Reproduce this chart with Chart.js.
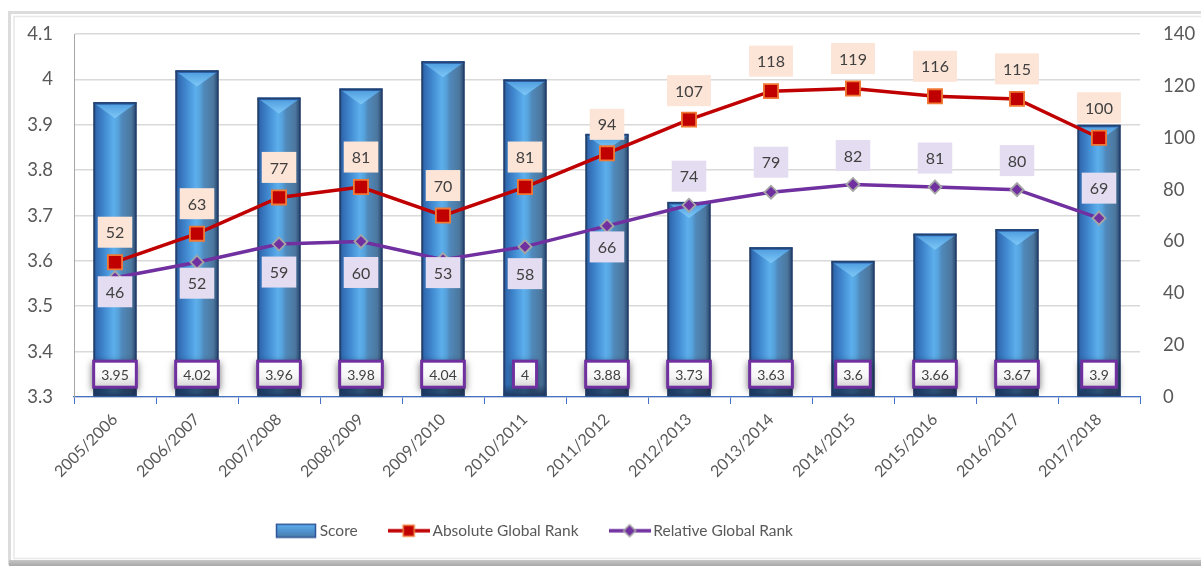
<!DOCTYPE html>
<html><head><meta charset="utf-8">
<style>html,body{margin:0;padding:0;background:#fff;overflow:hidden}#wrap{width:1201px;height:566px;position:relative}</style>
<script src="https://cdn.jsdelivr.net/npm/chart.js@4.4.1/dist/chart.umd.min.js"></script>
</head><body><div id="wrap"><canvas id="c" width="1201" height="566" style="width:1201px;height:566px"></canvas></div>
<script>
// ---- data ----
const categories = ['2005/2006','2006/2007','2007/2008','2008/2009','2009/2010','2010/2011','2011/2012','2012/2013','2013/2014','2014/2015','2015/2016','2016/2017','2017/2018'];
const scoreValues = [3.95,4.02,3.96,3.98,4.04,4,3.88,3.73,3.63,3.6,3.66,3.67,3.9];
const absoluteRank = [52,63,77,81,70,81,94,107,118,119,116,115,100];
const relativeRank = [46,52,59,60,53,58,66,74,79,82,81,80,69];
const scoreTicks = {min:3.3, max:4.1, step:0.1};
const rankTicks = {min:0, max:140, step:20};
const seriesNames = ['Score','Absolute Global Rank','Relative Global Rank'];
// style: vertical label offsets (px) from each point
const absLabelOffset = [-30,-30,-30,-30,-30,-30,-29,-29,-30,-30,-30,-30,-30];
const relLabelOffset = [14,21,28,31,13,27,21,-29,-30,-29,-29,-29,-30];

const FONT = 'Lato, "Open Sans", sans-serif';
const W = 1201, H = 566;
const PLOT_BOTTOM = 397;

function makeCanvas(w,h,draw){const c=document.createElement('canvas');c.width=w;c.height=h;draw(c.getContext('2d'));return c;}
const scoreIcon = makeCanvas(42,16,ctx=>{
  const g=ctx.createLinearGradient(0,1,0,15);g.addColorStop(0,'#62b2ec');g.addColorStop(0.5,'#4f94d2');g.addColorStop(1,'#4a7aa6');
  ctx.fillStyle=g;ctx.fillRect(1,1,40,14);ctx.strokeStyle='#2f5597';ctx.lineWidth=1.5;ctx.strokeRect(1.5,1.5,39,13);
});
const absIcon = makeCanvas(42,16,ctx=>{
  ctx.strokeStyle='#c00000';ctx.lineWidth=3.5;ctx.beginPath();ctx.moveTo(0,8);ctx.lineTo(42,8);ctx.stroke();
  ctx.fillStyle='#c00000';ctx.fillRect(15.5,2.5,11,11);ctx.strokeStyle='#f08040';ctx.lineWidth=1.5;ctx.strokeRect(15.5,2.5,11,11);
});
const relIcon = makeCanvas(42,16,ctx=>{
  ctx.strokeStyle='#7030a0';ctx.lineWidth=3.5;ctx.beginPath();ctx.moveTo(0,8);ctx.lineTo(42,8);ctx.stroke();
  ctx.beginPath();ctx.moveTo(21,2);ctx.lineTo(27,8);ctx.lineTo(21,14);ctx.lineTo(15,8);ctx.closePath();
  ctx.fillStyle='#7030a0';ctx.fill();ctx.strokeStyle='#a5a5a5';ctx.lineWidth=1.5;ctx.stroke();
});

function drawBar(ctx, el, area){
  const w=el.width, x0=el.x-w/2, x1=el.x+w/2, top=el.y, bot=Math.min(el.base, area.bottom), cx=el.x;
  ctx.save();
  const g=ctx.createLinearGradient(x0,0,x1,0);
  g.addColorStop(0,'#1e3a66');g.addColorStop(0.06,'#3069b0');g.addColorStop(0.25,'#4189d0');
  g.addColorStop(0.47,'#5caeec');g.addColorStop(0.57,'#56a3dc');g.addColorStop(0.66,'#5089bb');
  g.addColorStop(0.88,'#4c779e');g.addColorStop(0.95,'#36587f');g.addColorStop(1,'#1b3050');
  ctx.fillStyle=g;ctx.fillRect(x0,top,w,bot-top);
  const bg=ctx.createLinearGradient(0,bot-12,0,bot);bg.addColorStop(0,'rgba(25,45,80,0)');bg.addColorStop(1,'rgba(25,45,80,0.9)');
  ctx.fillStyle=bg;ctx.fillRect(x0,bot-12,w,12);
  const vg=ctx.createLinearGradient(0,top,0,top+16);vg.addColorStop(0,'#4a98dc');vg.addColorStop(1,'#7ec8f7');
  ctx.beginPath();ctx.moveTo(x0+2,top+2);ctx.lineTo(x1-2,top+2);ctx.lineTo(cx,top+16);ctx.closePath();ctx.fillStyle=vg;ctx.fill();
  ctx.fillStyle='#2c5ea6';ctx.fillRect(x0,top,w,2.5);
  ctx.strokeStyle='#23416e';ctx.lineWidth=1.5;ctx.strokeRect(x0+0.75,top+0.75,w-1.5,bot-top-1.5);
  ctx.restore();
}

function boxLabel(ctx, text, cx, cy, fill, fontSize, padX, h){
  ctx.font = fontSize+'px '+FONT;
  const tw=ctx.measureText(text).width, w=tw+padX*2;
  ctx.fillStyle=fill;ctx.fillRect(cx-w/2,cy-h/2,w,h);
  ctx.fillStyle='#404040';ctx.textAlign='center';ctx.textBaseline='middle';
  ctx.fillText(text,cx,cy+1);
}

const decorPlugin = {
  id:'decor',
  beforeDraw(chart){
    const ctx=chart.ctx;ctx.save();
    ctx.fillStyle='#fff';ctx.fillRect(0,0,W,H);
    ctx.strokeStyle='#dcdcdc';ctx.lineWidth=3;ctx.strokeRect(9.5,12.5,W+10,H-15);
    ctx.strokeStyle='#e8e8e8';ctx.lineWidth=1.5;ctx.strokeRect(14,16.5,W+10,H-24);
    const sg=ctx.createLinearGradient(0,H-8,0,H);sg.addColorStop(0,'#d0d0d0');sg.addColorStop(1,'#a8a8a8');
    ctx.fillStyle=sg;ctx.fillRect(9,H-6,W,6);
    ctx.restore();
  },
  afterLayout(chart){
    const lg=chart.legend; if(!lg) return;
    const pad=lg.options.labels.padding;
    const dx=(280-pad)-lg.left; lg.left+=dx; lg.right+=dx;
    const h=lg.bottom-lg.top; const top=532-pad-9; lg.top=top; lg.bottom=top+h;
  },
  afterDatasetDraw(chart,args){
    if(args.index!==0) return;
    const ctx=chart.ctx;
    args.meta.data.forEach(el=>drawBar(ctx,el,chart.chartArea));
  },
  afterDatasetsDraw(chart){
    const ctx=chart.ctx;ctx.save();
    const area=chart.chartArea;
    chart.getDatasetMeta(0).data.forEach((el,i)=>{
      const text=String(scoreValues[i]);
      ctx.font='14px '+FONT;
      const tw=ctx.measureText(text).width,w=tw+18,h=29,cx=el.x,cy=Math.min(el.base,area.bottom)-22;
      ctx.save();ctx.shadowColor='rgba(0,0,0,0.55)';ctx.shadowBlur=7;ctx.shadowOffsetY=2;
      ctx.fillStyle='#7030a0';ctx.fillRect(cx-w/2,cy-h/2,w,h);ctx.restore();
      const ig=ctx.createLinearGradient(0,cy-h/2+3,0,cy+h/2-3);ig.addColorStop(0,'#ffffff');ig.addColorStop(0.6,'#f6f6f6');ig.addColorStop(1,'#d8d8d8');
      ctx.fillStyle=ig;ctx.fillRect(cx-w/2+3,cy-h/2+3,w-6,h-6);
      ctx.fillStyle='#404040';ctx.textAlign='center';ctx.textBaseline='middle';ctx.fillText(text,cx,cy+1);
    });
    chart.getDatasetMeta(1).data.forEach((el,i)=>{
      boxLabel(ctx,String(absoluteRank[i]),el.x,el.y+absLabelOffset[i],'#fce4d6',16,8,31);
    });
    chart.getDatasetMeta(2).data.forEach((el,i)=>{
      boxLabel(ctx,String(relativeRank[i]),el.x,el.y+relLabelOffset[i],'#e4dcf0',16,8,31);
    });
    ctx.restore();
  }
};

const icons=[scoreIcon,absIcon,relIcon];
new Chart(document.getElementById('c'),{
  data:{
    labels:categories,
    datasets:[
      {type:'bar',label:seriesNames[0],data:scoreValues,yAxisID:'y',order:3,base:scoreTicks.min,backgroundColor:'rgba(0,0,0,0)',borderWidth:0,
       categoryPercentage:1,barPercentage:0.525},
      {type:'line',label:seriesNames[1],data:absoluteRank,yAxisID:'y1',order:1,borderColor:'#c00000',borderWidth:3.5,
       pointStyle:'rect',pointRadius:10,pointBackgroundColor:'#c00000',pointBorderColor:'#f07a35',pointBorderWidth:1.8,tension:0},
      {type:'line',label:seriesNames[2],data:relativeRank,yAxisID:'y1',order:2,borderColor:'#7030a0',borderWidth:3.5,
       pointStyle:'rectRot',pointRadius:6.5,pointBackgroundColor:'#7030a0',pointBorderColor:'#a5a5a5',pointBorderWidth:1.8,tension:0}
    ]
  },
  options:{
    responsive:false,animation:false,devicePixelRatio:1,
    layout:{padding:{left:14,right:6,top:34,bottom:4}},
    plugins:{
      tooltip:{enabled:false},
      legend:{display:true,position:'bottom',align:'start',
        labels:{usePointStyle:true,pointStyleWidth:32,padding:35,color:'#595959',font:{family:FONT,size:15.5},
          generateLabels:()=>seriesNames.map((n,i)=>({text:n,pointStyle:icons[i],fillStyle:'rgba(0,0,0,0)',strokeStyle:'rgba(0,0,0,0)',lineWidth:0,hidden:false,datasetIndex:i,fontColor:'#595959'}))}}
    },
    scales:{
      x:{offset:true,
        grid:{display:true,offset:true,drawOnChartArea:false,drawTicks:true,tickLength:7,color:'#4472c4',lineWidth:1},
        border:{display:true,color:'#4472c4',width:1.2},
        ticks:{maxRotation:45,minRotation:45,autoSkip:false,padding:6,color:'#595959',font:{family:FONT,size:16}},
        afterFit:s=>{const lg=s.chart.legend;s.height=H-PLOT_BOTTOM-4-(lg?lg.height:0);}
      },
      y:{position:'left',min:scoreTicks.min,max:scoreTicks.max,
        ticks:{stepSize:scoreTicks.step,padding:21,color:'#595959',font:{family:FONT,size:18.5},callback:v=>String(+Number(v).toFixed(1))},
        grid:{color:'#d9d9d9',lineWidth:1.6,drawTicks:false},
        border:{display:true,color:'#a6a6a6',width:1},
        afterFit:s=>{s.width=60;}
      },
      y1:{position:'right',min:rankTicks.min,max:rankTicks.max,
        ticks:{stepSize:rankTicks.step,padding:23,color:'#595959',font:{family:FONT,size:18.5}},
        grid:{display:false,drawTicks:false},
        border:{display:false},
        afterFit:s=>{s.width=55;}
      }
    }
  },
  plugins:[decorPlugin]
});
</script></body></html>
